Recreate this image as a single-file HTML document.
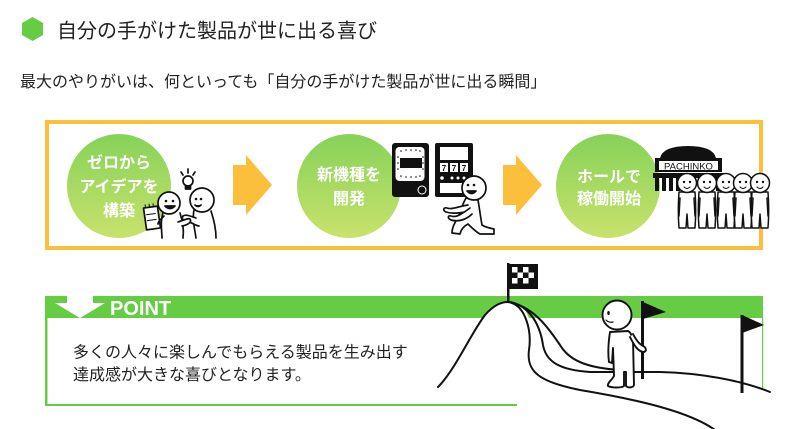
<!DOCTYPE html>
<html><head><meta charset="utf-8">
<style>
html,body{margin:0;padding:0;background:#fff;}
body{width:800px;height:429px;overflow:hidden;}
svg{display:block;}
text{font-family:"Liberation Sans","Noto Sans CJK JP",sans-serif;}
</style></head>
<body>
<svg width="800" height="429" viewBox="0 0 800 429" xmlns="http://www.w3.org/2000/svg">
<defs>
<linearGradient id="cg" x1="0" y1="0" x2="0" y2="1">
<stop offset="0" stop-color="#86d258"/>
<stop offset="1" stop-color="#c8e26c"/>
</linearGradient>
</defs>

<!-- header -->
<polygon points="32.5,17 43,23 43,35 32.5,41 22,35 22,23" fill="#66cc44"/>
<text x="57" y="37.5" font-size="20" fill="#222">自分の手がけた製品が世に出る喜び</text>
<text x="20" y="87" font-size="16" fill="#222">最大のやりがいは、何といっても「自分の手がけた製品が世に出る瞬間」</text>

<!-- orange box -->
<rect x="47" y="122" width="714" height="126" fill="none" stroke="#fbbf3b" stroke-width="4"/>

<!-- circles -->
<circle cx="119" cy="186" r="52" fill="url(#cg)"/>
<circle cx="349" cy="186" r="52" fill="url(#cg)"/>
<circle cx="608" cy="186" r="52" fill="url(#cg)"/>
<g font-size="16" font-weight="bold" fill="#fff" text-anchor="middle">
<text x="119" y="168">ゼロから</text>
<text x="119" y="192">アイデアを</text>
<text x="119" y="216">構築</text>
<text x="349" y="180">新機種を</text>
<text x="349" y="204">開発</text>
<text x="609" y="182">ホールで</text>
<text x="609" y="204">稼働開始</text>
</g>

<!-- arrows -->
<polygon points="233,165 246,165 246,155 272,185 246,215 246,205 233,205" fill="#fbbf3b"/>
<polygon points="503,165 516,165 516,155 542,185 516,215 516,205 503,205" fill="#fbbf3b"/>

<!-- illustration 1 -->
<g stroke="#111" stroke-width="1.7" fill="#fff" stroke-linecap="round" stroke-linejoin="round">
<!-- lightbulb -->
<line x1="181" y1="172" x2="183" y2="175" />
<line x1="188" y1="169" x2="188" y2="173" />
<line x1="195" y1="172" x2="193" y2="175" />
<circle cx="188" cy="181" r="5"/>
<rect x="185.5" y="186" width="5" height="3" fill="#111"/>
<!-- person B body -->
<path d="M194,210 C192,220 195,230 196,238 M211,211 C214,220 216,230 216,238"/>
<path d="M196,218 C190,216 186,214 183,216 C181,219 184,222 189,222 C193,223 196,226 199,226" />
<circle cx="202" cy="200" r="12"/>
<circle cx="196" cy="199" r="1.3" fill="#111" stroke="none"/>
<circle cx="201" cy="199" r="1.3" fill="#111" stroke="none"/>
<path d="M195,205 Q198,208 201,205" fill="#111"/>
<!-- person A -->
<path d="M163,213 C160,222 162,232 162,238 M180,213 C183,222 184,230 183,238"/>
<path d="M178,222 C184,220 188,218 190,219 C192,222 188,225 182,226"/>
<g transform="rotate(-8 152 218)">
<rect x="145" y="207" width="14" height="22" />
<line x1="147" y1="214" x2="156" y2="214" stroke-width="1"/>
<line x1="147" y1="220" x2="156" y2="220" stroke-width="1"/>
<line x1="147" y1="207" x2="147" y2="204" stroke-width="1"/>
<line x1="151" y1="207" x2="151" y2="204" stroke-width="1"/>
<line x1="155" y1="207" x2="155" y2="204" stroke-width="1"/>
</g>
<path d="M164,216 C160,220 158,222 158,224"/>
<circle cx="169" cy="203" r="11"/>
<circle cx="166" cy="201" r="1.3" fill="#111" stroke="none"/>
<circle cx="173" cy="201" r="1.3" fill="#111" stroke="none"/>
<path d="M165,206 Q170,211 175,206 Z" fill="#111"/>
</g>

<!-- illustration 2: machines -->
<rect x="392" y="143" width="37" height="54" rx="3" fill="#111"/>
<rect x="395.5" y="147" width="29" height="34" rx="4" fill="#fff"/>
<rect x="400" y="158" width="22" height="10" fill="#111"/>
<g fill="#111">
<circle cx="401" cy="151" r="0.8"/><circle cx="406" cy="150" r="0.8"/><circle cx="411" cy="150" r="0.8"/><circle cx="416" cy="150" r="0.8"/><circle cx="420" cy="151" r="0.8"/>
<circle cx="398" cy="157" r="0.8"/><circle cx="398" cy="163" r="0.8"/><circle cx="398" cy="169" r="0.8"/>
<circle cx="423" cy="157" r="0.8"/><circle cx="423" cy="163" r="0.8"/><circle cx="423" cy="169" r="0.8"/>
<circle cx="401" cy="176" r="0.8"/><circle cx="406" cy="177" r="0.8"/><circle cx="411" cy="177" r="0.8"/><circle cx="416" cy="177" r="0.8"/><circle cx="420" cy="176" r="0.8"/>
</g>
<circle cx="422" cy="190" r="4" fill="none" stroke="#fff" stroke-width="1"/>

<rect x="435" y="143" width="38" height="54" rx="2" fill="#111"/>
<rect x="440" y="147" width="28" height="13" fill="#fff"/>
<rect x="440" y="163" width="8" height="9" fill="#fff"/>
<rect x="450" y="163" width="8" height="9" fill="#fff"/>
<rect x="460" y="163" width="8" height="9" fill="#fff"/>
<text x="444" y="171" font-size="8" font-weight="bold" fill="#111" text-anchor="middle">7</text>
<text x="454" y="171" font-size="8" font-weight="bold" fill="#111" text-anchor="middle">7</text>
<text x="464" y="171" font-size="8" font-weight="bold" fill="#111" text-anchor="middle">7</text>
<circle cx="442" cy="178" r="1.8" fill="#fff"/>
<circle cx="452" cy="178" r="1.5" fill="#fff"/>
<circle cx="458" cy="178" r="1.5" fill="#fff"/>
<circle cx="464" cy="178" r="1.5" fill="#fff"/>
<rect x="440" y="183" width="28" height="10" fill="#fff"/>

<!-- kneeling person -->
<g stroke="#111" stroke-width="1.7" fill="#fff" stroke-linecap="round" stroke-linejoin="round">
<path d="M466,198 C462,205 460,212 458,218 C455,222 452,228 452,233 L460,234 C461,229 464,226 468,224 C472,228 476,232 480,234 C484,234 490,234 494,234 L494,229 C489,228 485,227 482,225 C481,220 480,212 478,200 Z"/>
<path d="M468,205 C460,206 452,210 447,208 C444,207 442,210 446,212 C452,214 458,213 466,212"/>
<path d="M470,208 C462,214 456,218 451,216 C448,215 447,218 451,220 C458,222 466,220 472,214"/>
<circle cx="474" cy="188" r="12"/>
<circle cx="468" cy="185" r="1.3" fill="#111" stroke="none"/>
<circle cx="474" cy="185" r="1.3" fill="#111" stroke="none"/>
<path d="M467,191 Q472,196 476,191 Z" fill="#111"/>
</g>

<!-- illustration 3: pachinko hall -->
<path d="M660,158 Q663,146 688,146 Q713,146 716,158 Z" fill="#111"/>
<rect x="655" y="158" width="67" height="14" fill="#111"/>
<rect x="659" y="161" width="59" height="9" fill="#fff"/>
<text x="688.5" y="169.5" font-size="9.5" fill="#111" text-anchor="middle">PACHINKO</text>
<rect x="653" y="173" width="71" height="5" fill="#111"/>
<rect x="655" y="178" width="4" height="13" fill="#111"/>
<rect x="662" y="178" width="4" height="13" fill="#111"/>
<rect x="669" y="178" width="4" height="13" fill="#111"/>
<rect x="676" y="178" width="4" height="13" fill="#111"/>
<rect x="700" y="178" width="4" height="13" fill="#111"/>
<rect x="716" y="178" width="4" height="13" fill="#111"/>

<g stroke="#111" stroke-width="1.5" fill="#fff" stroke-linecap="round" stroke-linejoin="round">
<g>
<path d="M679,192 C678,205 678,215 679,228 L686,228 L687,214 L688,228 L695,228 C696,215 696,205 695,192 Z"/>
<path d="M680,198 L679,216 M694,198 L695,216" fill="none"/>
<circle cx="687" cy="183" r="9.5"/>
<circle cx="684" cy="182" r="1.2" fill="#111" stroke="none"/>
<circle cx="690" cy="182" r="1.2" fill="#111" stroke="none"/>
<path d="M684,187 Q687,190 690,187" fill="none" stroke-width="1"/>
</g>
<g>
<path d="M699,192 C698,205 698,215 699,228 L706,228 L707,214 L708,228 L715,228 C716,215 716,205 715,192 Z"/>
<path d="M700,198 L699,216 M714,198 L715,216" fill="none"/>
<circle cx="707" cy="183" r="9.5"/>
<circle cx="704" cy="182" r="1.2" fill="#111" stroke="none"/>
<circle cx="710" cy="182" r="1.2" fill="#111" stroke="none"/>
<path d="M704,187 Q707,190 710,187" fill="none" stroke-width="1"/>
</g>
<g>
<path d="M718,192 C717,205 717,215 718,228 L725,228 L726,214 L727,228 L734,228 C735,215 735,205 734,192 Z"/>
<path d="M719,198 L718,216 M733,198 L734,216" fill="none"/>
<circle cx="726" cy="183" r="9.5"/>
<circle cx="723" cy="182" r="1.2" fill="#111" stroke="none"/>
<circle cx="729" cy="182" r="1.2" fill="#111" stroke="none"/>
<path d="M723,187 Q726,190 729,187" fill="none" stroke-width="1"/>
</g>
<g>
<path d="M735,192 C734,205 734,215 735,228 L742,228 L743,214 L744,228 L751,228 C752,215 752,205 751,192 Z"/>
<path d="M736,198 L735,216 M750,198 L751,216" fill="none"/>
<circle cx="743" cy="183" r="9.5"/>
<circle cx="740" cy="182" r="1.2" fill="#111" stroke="none"/>
<circle cx="746" cy="182" r="1.2" fill="#111" stroke="none"/>
<path d="M740,187 Q743,190 746,187" fill="none" stroke-width="1"/>
</g>
<g>
<path d="M752,192 C751,205 751,215 752,228 L759,228 L760,214 L761,228 L768,228 C769,215 769,205 768,192 Z"/>
<path d="M753,198 L752,216 M767,198 L768,216" fill="none"/>
<circle cx="760" cy="183" r="9.5"/>
<circle cx="757" cy="182" r="1.2" fill="#111" stroke="none"/>
<circle cx="763" cy="182" r="1.2" fill="#111" stroke="none"/>
<path d="M757,187 Q760,190 763,187" fill="none" stroke-width="1"/>
</g>
</g>

<!-- POINT box -->
<rect x="45" y="296" width="718" height="22" fill="#66cc44"/>
<rect x="45" y="318" width="2.5" height="88" fill="#66cc44"/>
<rect x="45" y="404" width="472" height="2" fill="#66cc44"/>
<rect x="762" y="318" width="1.2" height="70" fill="#66cc44"/>
<polygon points="67,296 93,296 93,303 105,303 80,318 55,303 67,303" fill="#fff"/>
<text x="110" y="315" font-size="20" font-weight="bold" fill="#fff" font-family="Liberation Sans, sans-serif">POINT</text>
<text x="73" y="357.5" font-size="16" fill="#222">多くの人々に楽しんでもらえる製品を生み出す</text>
<text x="73" y="380" font-size="16" fill="#222">達成感が大きな喜びとなります。</text>

<!-- hill illustration -->
<path d="M438,387 C455,370 470,335 485,315 C494,305 501,302 508,302 C520,302 530,310 531,330 C532,345 528,355 529,365 L529,400 L438,400 Z" fill="#fff"/>
<g fill="none" stroke="#111" stroke-width="2" stroke-linecap="round">
<path d="M438,387 C455,370 470,335 485,315 C494,305 501,302 508,302"/>
<path d="M508,302 C525,304 532,330 529,350 C526,372 540,382 580,390 C640,400 690,412 715,430"/>
<path d="M510,302 C530,306 540,325 543,345 C546,362 560,370 590,372 L660,372 C700,373 740,380 770,392"/>
<path d="M512,303 C535,308 550,330 562,348 C572,362 590,368 620,370"/>
</g>
<!-- checkered flag -->
<rect x="507" y="263" width="2.5" height="40" fill="#111"/>
<rect x="509" y="264" width="29" height="25" fill="#111"/>
<g fill="#fff">
<rect x="512" y="267" width="5.5" height="5.5"/><rect x="523" y="267" width="5.5" height="5.5"/>
<rect x="517.5" y="272.5" width="5.5" height="5.5"/><rect x="528.5" y="272.5" width="5.5" height="5.5"/>
<rect x="512" y="278" width="5.5" height="5.5"/><rect x="523" y="278" width="5.5" height="5.5"/>
</g>
<!-- person on hill -->
<rect x="641" y="301" width="3" height="78" fill="#111"/>
<polygon points="643,302 666,312 643,319" fill="#111"/>
<g stroke="#111" stroke-width="1.9" fill="#fff" stroke-linecap="round" stroke-linejoin="round">
<path d="M610,332 C608,345 608,355 609,362 L612,363 L613,348 L614,376 C612,380 607,383 608,386 C612,388 622,388 624,386 L624,372 L626,372 L626,386 C628,388 633,388 634,385 L633,340 C632,335 630,332 628,331 Z"/>
<path d="M630,337 C634,345 638,352 644,352 C647,351 646,347 643,346 C639,344 636,340 633,334" />
<circle cx="617" cy="315" r="14.5"/>
<ellipse cx="608.5" cy="313" rx="1.3" ry="2" fill="#111" stroke="none"/>
<path d="M606,320 Q609,323 613,322" fill="none" stroke-width="1.2"/>
</g>
<!-- right flag -->
<rect x="740.5" y="315" width="3" height="78" fill="#111"/>
<polygon points="742,315 764,325 742,333" fill="#111"/>
</svg>
</body></html>
